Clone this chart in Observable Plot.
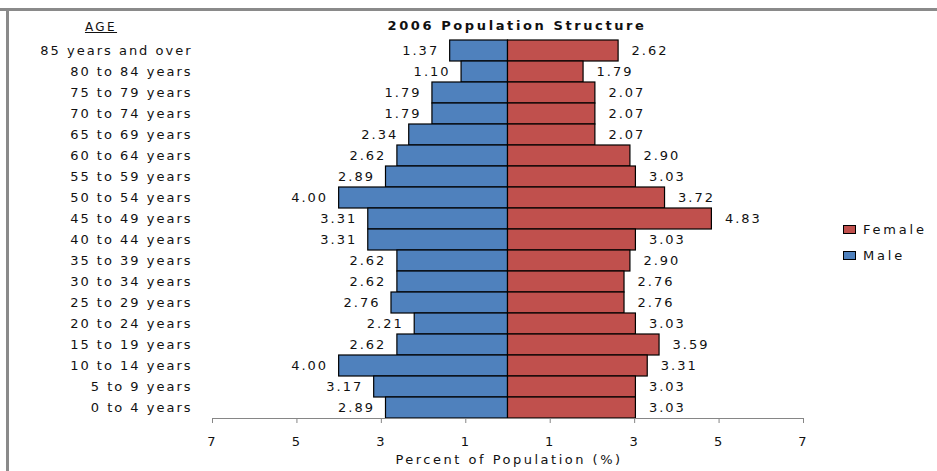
<!DOCTYPE html>
<html>
<head>
<meta charset="utf-8">
<script src="https://cdn.jsdelivr.net/npm/d3@7"></script>
<script src="https://cdn.jsdelivr.net/npm/@observablehq/plot@0.6"></script>
<style>
  html, body { margin: 0; padding: 0; background: #fff; }
  #wrap { position: relative; width: 937px; height: 471px; overflow: hidden; font-family: "DejaVu Sans", sans-serif; color: #111; }
  .abs { position: absolute; white-space: nowrap; }
  #chart text { letter-spacing: 2px; }
  #borderTop { left: 0; top: 8px; width: 937px; height: 3px; background: #8a8a8a; }
  #borderLeft { left: 6px; top: 8px; width: 3px; height: 471px; background: #8a8a8a; }
  #title { left: 517px; top: 25px; transform: translate(-50%, -50%); font-weight: bold; font-size: 13px; letter-spacing: 2.6px; }
  #age { left: 101px; top: 27px; transform: translate(-50%, -50%); font-size: 12px; letter-spacing: 2.4px; text-decoration: underline; }
  #xlabel { left: 509px; top: 459px; transform: translate(-50%, -50%); font-size: 13px; letter-spacing: 2.5px; }
  .sw { position: absolute; width: 11px; height: 7px; border: 1px solid #000; }
  .lg { font-size: 13px; letter-spacing: 2.8px; transform: translateY(-50%); }
</style>
</head>
<body>
<div id="wrap">
  <div id="chart" class="abs" style="left:0;top:0"></div>
  <div id="borderTop" class="abs"></div>
  <div id="borderLeft" class="abs"></div>
  <div id="title" class="abs">2006 Population Structure</div>
  <div id="age" class="abs">AGE</div>
  <div id="xlabel" class="abs">Percent of Population (%)</div>
  <div class="sw" style="left:843px;top:225px;background:#C0504D"></div>
  <div class="abs lg" style="left:863px;top:229px">Female</div>
  <div class="sw" style="left:843px;top:251px;background:#4F81BD"></div>
  <div class="abs lg" style="left:863px;top:255px">Male</div>
</div>
<script>
const ages = ["85 years and over","80 to 84 years","75 to 79 years","70 to 74 years","65 to 69 years","60 to 64 years","55 to 59 years","50 to 54 years","45 to 49 years","40 to 44 years","35 to 39 years","30 to 34 years","25 to 29 years","20 to 24 years","15 to 19 years","10 to 14 years","5 to 9 years","0 to 4 years"];
const male =   [1.37,1.10,1.79,1.79,2.34,2.62,2.89,4.00,3.31,3.31,2.62,2.62,2.76,2.21,2.62,4.00,3.17,2.89];
const female = [2.62,1.79,2.07,2.07,2.07,2.90,3.03,3.72,4.83,3.03,2.90,2.76,2.76,3.03,3.59,3.31,3.03,3.03];
const xTicks = [-7,-5,-3,-1,1,3,5,7];

const maleColor = "#4F81BD";
const femaleColor = "#C0504D";

const maleData = ages.map((a, i) => ({age: a, value: male[i]}));
const femaleData = ages.map((a, i) => ({age: a, value: female[i]}));

const chart = Plot.plot({
  width: 937,
  height: 471,
  marginLeft: 212,
  marginRight: 134,
  marginTop: 39,
  marginBottom: 53,
  style: {fontFamily: "DejaVu Sans, sans-serif", fontSize: "13px", color: "#111", background: "transparent"},
  x: {domain: [-7, 7], axis: null},
  y: {domain: ages, padding: 0, axis: null},
  marks: [
    Plot.barX(maleData, {y: "age", x1: 0, x2: d => -d.value, fill: maleColor, stroke: "#000", strokeWidth: 1.2}),
    Plot.barX(femaleData, {y: "age", x1: 0, x2: d => d.value, fill: femaleColor, stroke: "#000", strokeWidth: 1.2}),
    Plot.text(maleData, {y: "age", x: d => -d.value, text: d => d.value.toFixed(2), dx: -11, textAnchor: "end", fill: "#111"}),
    Plot.text(femaleData, {y: "age", x: d => d.value, text: d => d.value.toFixed(2), dx: 13, textAnchor: "start", fill: "#111"}),
    Plot.axisY({tickSize: 0, tickPadding: 20, fill: "#111", label: null}),
    Plot.axisX({ticks: xTicks, tickFormat: d => Math.abs(d), tickSize: 5, tickPadding: 13, stroke: "#868686", fill: "#111", label: null}),
    Plot.frame({anchor: "bottom", stroke: "#868686"})
  ]
});
document.getElementById("chart").appendChild(chart);
</script>
</body>
</html>
